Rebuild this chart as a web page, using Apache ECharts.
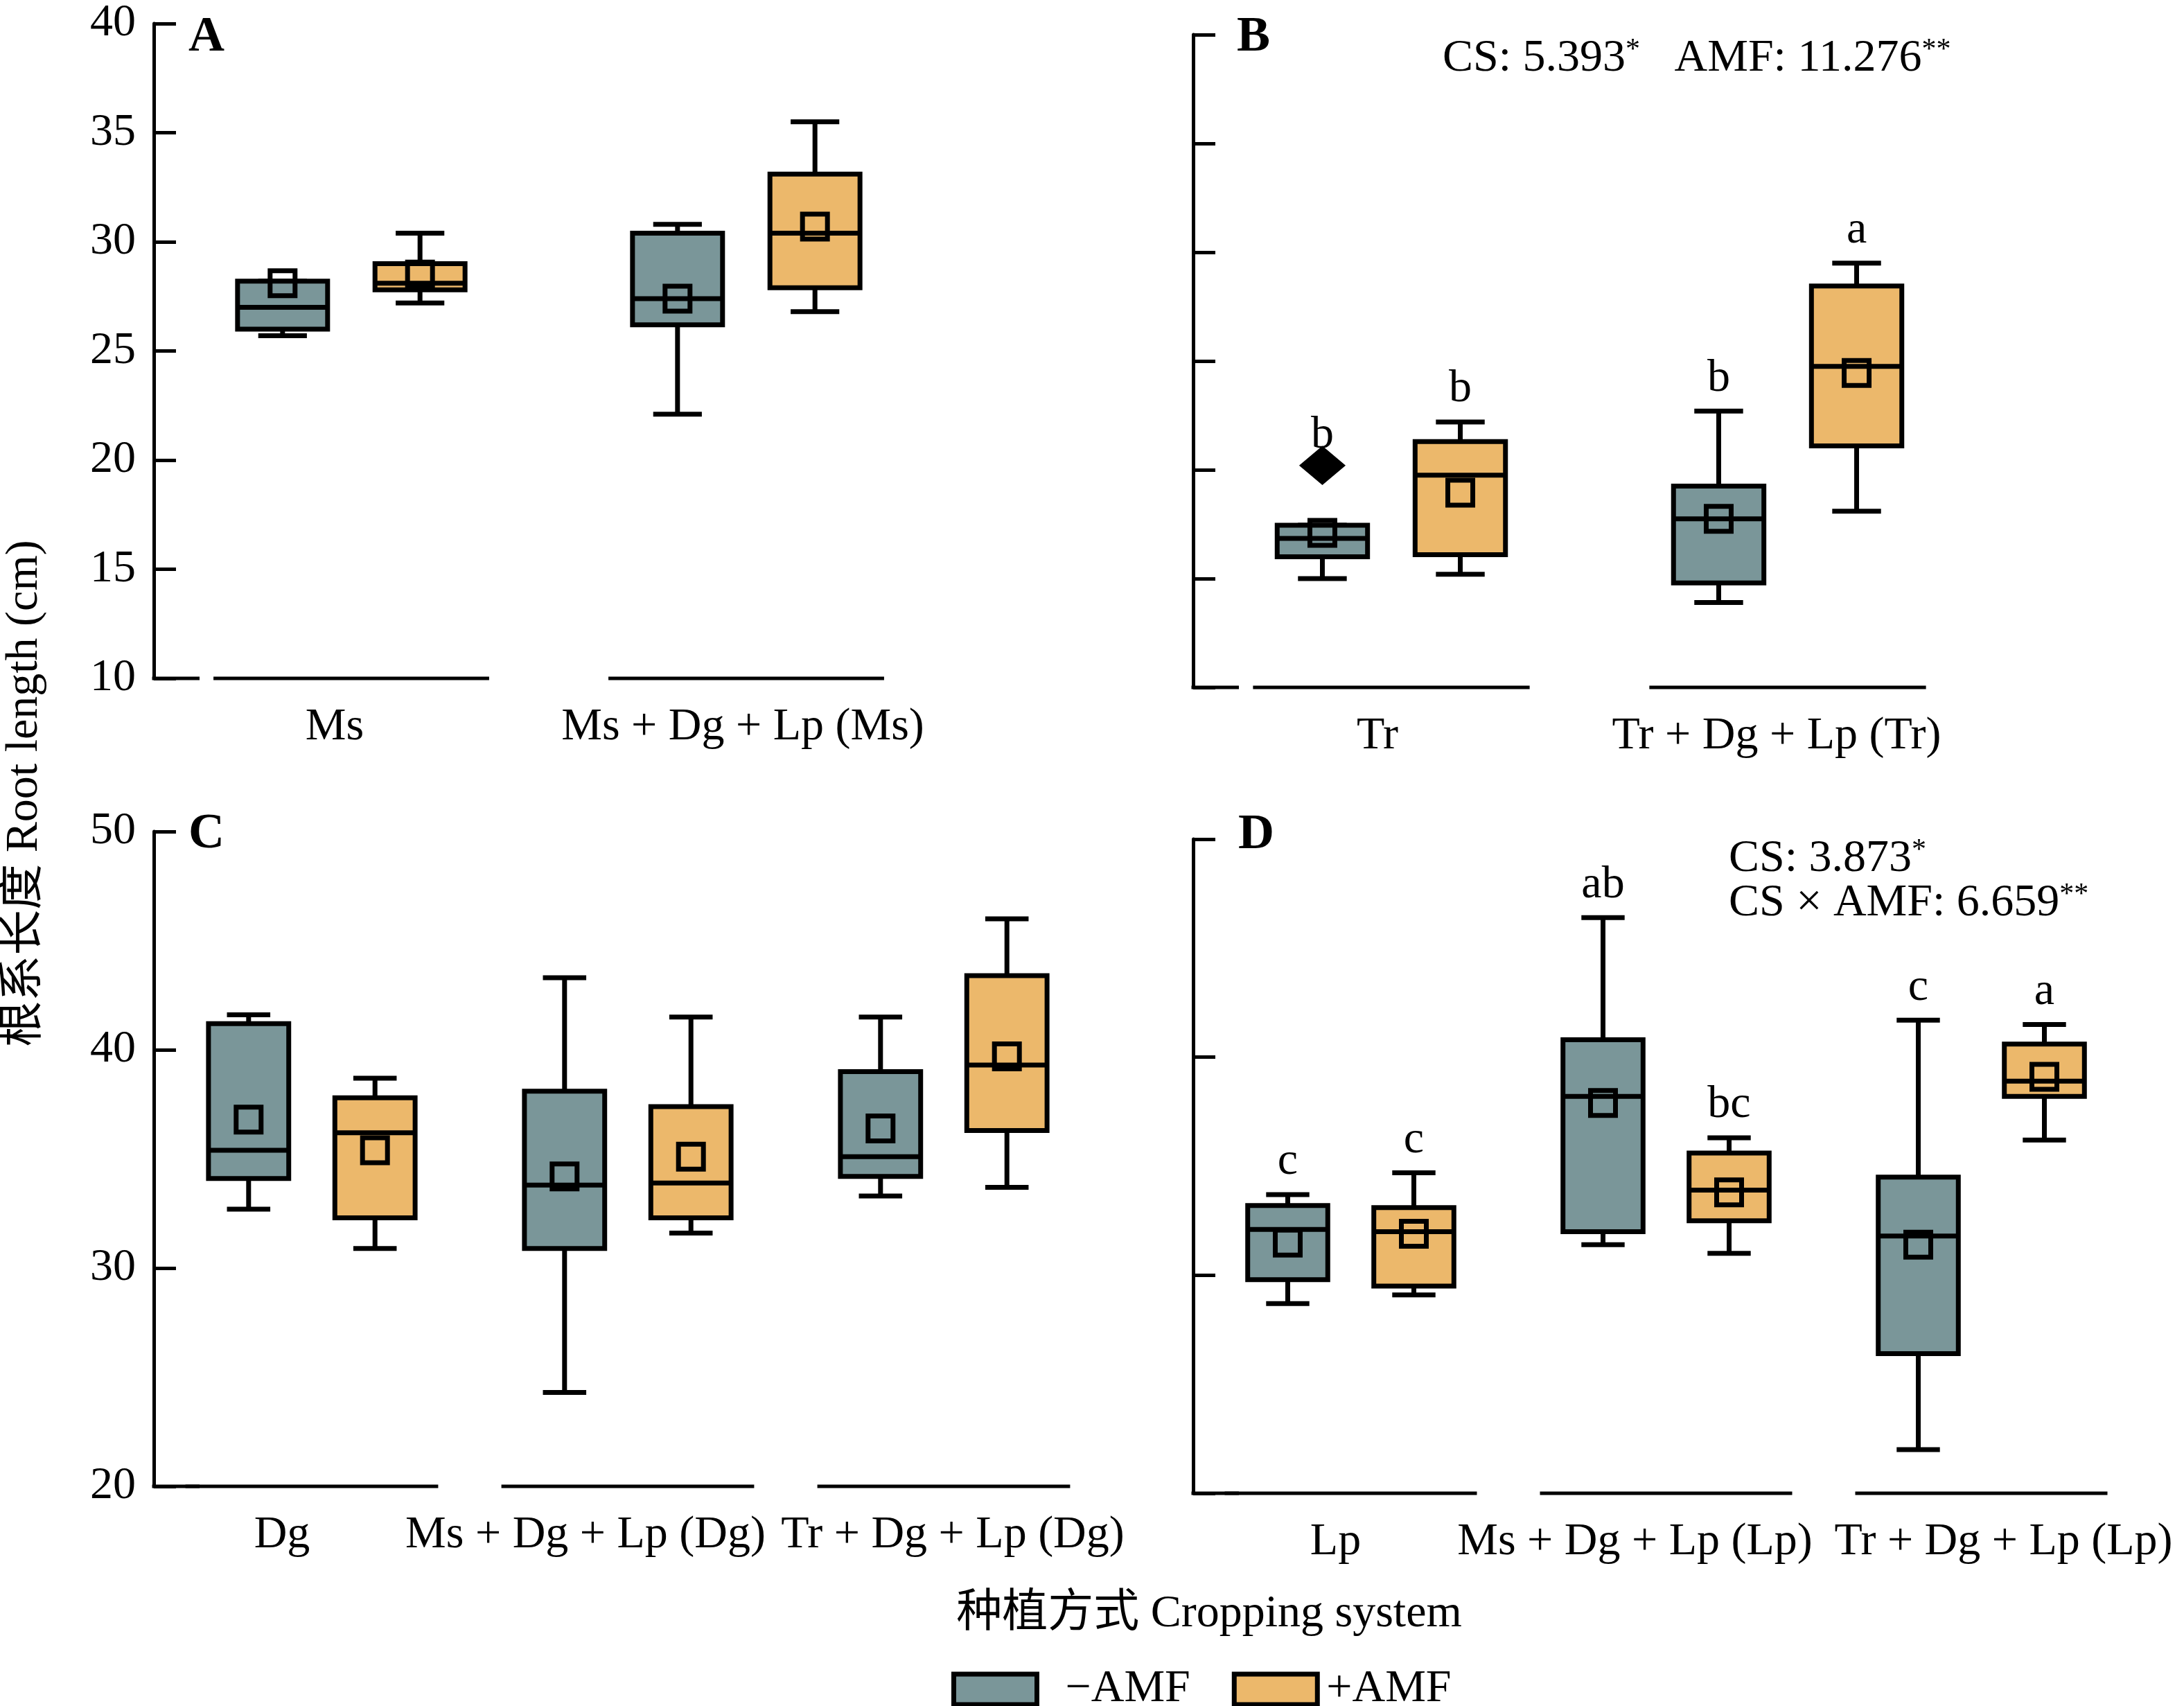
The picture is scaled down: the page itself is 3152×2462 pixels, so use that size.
<!DOCTYPE html>
<html>
<head>
<meta charset="utf-8">
<script src="https://cdn.jsdelivr.net/npm/echarts@6.0.0/dist/echarts.min.js"></script>
<style>
  html, body { margin: 0; padding: 0; background: #fff; }
  #main { width: 3152px; height: 2462px; }
</style>
</head>
<body>
<div id="main"></div>
<script>
var FONT = "'Liberation Serif', 'Times New Roman', 'Noto Sans CJK SC', serif";
var GREY = '#7a9699';
var ORANGE = '#ecb86b';

// box stats per group: [min, Q1, median, Q3, max, mean]
var catsA = ['Ms', 'Ms + Dg + Lp (Ms)'];
var minusA = [[25.7, 26.0, 27.0, 28.2, 28.2, 28.1], [22.1, 26.2, 27.4, 30.4, 30.8, 27.4]];
var plusA = [[27.2, 27.8, 28.1, 29.0, 30.4, 28.5], [26.8, 27.9, 30.4, 33.1, 35.5, 30.7]];

var catsB = ['Tr', 'Tr + Dg + Lp (Tr)'];
var minusB = [[15.0, 16.0, 16.85, 17.45, 17.45, 17.1], [13.9, 14.8, 17.75, 19.25, 22.7, 17.75]];
var plusB = [[15.2, 16.1, 19.75, 21.3, 22.2, 18.95], [18.1, 21.1, 24.75, 28.45, 29.5, 24.45]];
var outlierMinusB = [20.2, null];
var lettersMinusB = ['b', 'b'];
var lettersPlusB = ['b', 'a'];

var catsC = ['Dg', 'Ms + Dg + Lp (Dg)', 'Tr + Dg + Lp (Dg)'];
var minusC = [[32.7, 34.1, 35.4, 41.2, 41.6, 36.8], [24.3, 30.9, 33.8, 38.1, 43.3, 34.2], [33.3, 34.2, 35.1, 39.0, 41.5, 36.4]];
var plusC = [[30.9, 32.3, 36.2, 37.8, 38.7, 35.4], [31.6, 32.3, 33.9, 37.4, 41.5, 35.1], [33.7, 36.3, 39.3, 43.4, 46.0, 39.7]];

var catsD = ['Lp', 'Ms + Dg + Lp (Lp)', 'Tr + Dg + Lp (Lp)'];
var minusD = [[28.7, 29.8, 32.1, 33.2, 33.7, 31.5], [31.4, 32.0, 38.2, 40.8, 46.4, 37.9], [22.0, 26.4, 31.8, 34.5, 41.7, 31.4]];
var plusD = [[29.1, 29.5, 32.0, 33.1, 34.7, 31.9], [31.0, 32.5, 33.9, 35.6, 36.3, 33.8], [36.2, 38.2, 38.9, 40.6, 41.5, 39.1]];
var lettersMinusD = ['c', 'ab', 'c'];
var lettersPlusD = ['c', 'bc', 'a'];

// y axis ranges [min, max, interval]
var yRangeAB = [10, 40, 5];
var yRangeCD = [20, 50, 10];

// layout of the four panels
var panels = [
  { grid: { left: 222, top: 34, width: 1140, height: 945 }, y: yRangeAB, labels: true, off: 0.174, bw: 0.228, inset: 0.151, shifts: [-24, -5] },
  { grid: { left: 1722, top: 50, width: 1144, height: 942 }, y: yRangeAB, labels: false, off: 0.174, bw: 0.228, inset: 0.151, shifts: [-20, -16] },
  { grid: { left: 222, top: 1200, width: 1368, height: 945 }, y: yRangeCD, labels: true, off: 0.2, bw: 0.254, inset: 0.1, shifts: [-43, -61, 13] },
  { grid: { left: 1722, top: 1211, width: 1365, height: 944 }, y: yRangeCD, labels: false, off: 0.2, bw: 0.254, inset: 0.1, shifts: [-22, -45, 32] }
];

var LW = 7;

function richFor(shifts) {
  var r = {};
  shifts.forEach(function (s, i) {
    r['t' + i] = {
      fontSize: 66, fontFamily: FONT, color: '#000',
      padding: s < 0 ? [0, -2 * s, 0, 0] : [0, 0, 0, 2 * s]
    };
  });
  return r;
}

function boxSeries(p, k, name, stats, color, letters, outliers) {
  var off = (name === '−AMF' ? -1 : 1) * p.off;
  return {
    type: 'custom',
    name: name,
    xAxisIndex: k,
    yAxisIndex: k,
    silent: true,
    itemStyle: { color: color },
    encode: { x: 0, y: [1, 2, 3, 4, 5, 6] },
    data: stats.map(function (s, i) { return [i].concat(s); }),
    renderItem: function (params, api) {
      var i = api.value(0);
      var band = api.size([1, 0])[0];
      var cx = api.coord([i, api.value(3)])[0] + off * band;
      var w = p.bw * band;
      var cap = w * 0.27;
      var y = function (d) { return api.coord([i, api.value(d)])[1]; };
      var yMin = y(1), yQ1 = y(2), yMed = y(3), yQ3 = y(4), yMax = y(5), yMean = y(6);
      var ln = { stroke: '#000', lineWidth: LW };
      var ch = [
        { type: 'line', shape: { x1: cx, y1: yQ3, x2: cx, y2: yMax }, style: ln },
        { type: 'line', shape: { x1: cx, y1: yQ1, x2: cx, y2: yMin }, style: ln },
        { type: 'line', shape: { x1: cx - cap, y1: yMax, x2: cx + cap, y2: yMax }, style: ln },
        { type: 'line', shape: { x1: cx - cap, y1: yMin, x2: cx + cap, y2: yMin }, style: ln },
        { type: 'rect', shape: { x: cx - w / 2, y: yQ3, width: w, height: yQ1 - yQ3 }, style: { fill: color, stroke: '#000', lineWidth: LW } },
        { type: 'line', shape: { x1: cx - w / 2, y1: yMed, x2: cx + w / 2, y2: yMed }, style: ln },
        { type: 'rect', shape: { x: cx - 18, y: yMean - 18, width: 36, height: 36 }, style: { fill: 'none', stroke: '#000', lineWidth: LW } }
      ];
      var anchor = yMax;
      var o = outliers ? outliers[params.dataIndex] : null;
      if (o != null) {
        var yo = api.coord([i, o])[1];
        ch.push({ type: 'polygon', shape: { points: [[cx, yo - 27], [cx + 32, yo], [cx, yo + 27], [cx - 32, yo]] }, style: { fill: '#000', stroke: '#000', lineWidth: 2 } });
        anchor = Math.min(anchor, yo + 4);
      }
      var t = letters ? letters[params.dataIndex] : null;
      if (t) {
        ch.push({ type: 'text', x: cx, y: anchor - 14, style: { text: t, fontSize: 66, fontFamily: FONT, fill: '#000', align: 'center', verticalAlign: 'bottom' } });
      }
      return { type: 'group', children: ch };
    }
  };
}

function baseSeries(p, k, cats) {
  return {
    type: 'custom',
    xAxisIndex: k,
    yAxisIndex: k,
    silent: true,
    encode: { x: 0, y: 1 },
    data: cats.map(function (c, i) { return [i, p.y[0]]; }),
    renderItem: function (params, api) {
      var i = api.value(0);
      var band = api.size([1, 0])[0];
      var pt = api.coord([i, api.value(1)]);
      var l = pt[0] - band / 2, r = pt[0] + band / 2;
      var st = { stroke: '#000', lineWidth: 5 };
      var ch = [{ type: 'line', shape: { x1: l + p.inset * band, y1: pt[1], x2: r - p.inset * band, y2: pt[1] }, style: st }];
      if (i === 0) ch.push({ type: 'line', shape: { x1: l - 2.5, y1: pt[1], x2: l + 66, y2: pt[1] }, style: st });
      return { type: 'group', children: ch };
    }
  };
}

var allCats = [catsA, catsB, catsC, catsD];
var groups = [
  [minusA, plusA, null, null, null],
  [minusB, plusB, lettersMinusB, lettersPlusB, outlierMinusB],
  [minusC, plusC, null, null, null],
  [minusD, plusD, lettersMinusD, lettersPlusD, null]
];

var grids = [], xAxes = [], yAxes = [], series = [];
panels.forEach(function (p, k) {
  grids.push(p.grid);
  xAxes.push({
    type: 'category',
    gridIndex: k,
    data: allCats[k],
    axisLine: { show: false },
    axisTick: { show: false },
    axisLabel: {
      interval: 0, margin: 38, color: '#000', fontSize: 66, fontFamily: FONT,
      formatter: function (v, i) { return '{t' + i + '|' + v + '}'; },
      rich: richFor(p.shifts)
    }
  });
  yAxes.push({
    type: 'value',
    gridIndex: k,
    min: p.y[0], max: p.y[1], interval: p.y[2],
    axisLine: { show: true, lineStyle: { color: '#000', width: 5 } },
    axisTick: { show: true, inside: true, length: 32, lineStyle: { color: '#000', width: 5 } },
    axisLabel: { show: p.labels, margin: 26, color: '#000', fontSize: 66, fontFamily: FONT },
    splitLine: { show: false }
  });
  var g = groups[k];
  series.push(baseSeries(p, k, allCats[k]));
  series.push(boxSeries(p, k, '−AMF', g[0], GREY, g[2], g[4]));
  series.push(boxSeries(p, k, '+AMF', g[1], ORANGE, g[3], null));
});

var txt = function (x, y, text, extra) {
  var s = { text: text, fontSize: 66, fontFamily: FONT, fill: '#000', align: 'left', verticalAlign: 'middle' };
  for (var key in extra) s[key] = extra[key];
  return { type: 'text', x: x, y: y, style: s };
};
var supRich = {
  n: { fontSize: 66, fontFamily: FONT, fill: '#000', lineHeight: 66 },
  s: { fontSize: 42, fontFamily: FONT, fill: '#000', lineHeight: 42, verticalAlign: 'top' }
};

var graphics = [
  txt(272, 54, 'A', { fontWeight: 'bold', fontSize: 72 }),
  txt(1785, 54, 'B', { fontWeight: 'bold', fontSize: 72 }),
  txt(272, 1204, 'C', { fontWeight: 'bold', fontSize: 72 }),
  txt(1787, 1205, 'D', { fontWeight: 'bold', fontSize: 72 }),
  txt(2082, 85, '{n|CS: 5.393}{s|*}{n|   AMF: 11.276}{s|**}', { rich: supRich }),
  txt(2495, 1240, '{n|CS: 3.873}{s|*}', { rich: supRich }),
  txt(2495, 1304, '{n|CS × AMF: 6.659}{s|**}', { rich: supRich }),
  txt(1745, 2330, '种植方式 Cropping system', { align: 'center' }),
  {
    type: 'text', x: 36, y: 1145, rotation: Math.PI / 2,
    style: { text: '根系长度 Root length (cm)', fontSize: 66, fontFamily: FONT, fill: '#000', align: 'center', verticalAlign: 'middle' }
  }
];

var option = {
  animation: false,
  backgroundColor: '#fff',
  grid: grids,
  xAxis: xAxes,
  yAxis: yAxes,
  legend: {
    left: 1368,
    top: 2400,
    itemWidth: 120,
    itemHeight: 44,
    itemGap: 60,
    selectedMode: false,
    textStyle: { fontSize: 66, fontFamily: FONT, color: '#000' },
    data: [
      { name: '−AMF', icon: 'rect', itemStyle: { color: GREY, borderColor: '#000', borderWidth: 7 }, textStyle: { padding: [0, 0, 0, 36] } },
      { name: '+AMF', icon: 'rect', itemStyle: { color: ORANGE, borderColor: '#000', borderWidth: 7 }, textStyle: { padding: [0, 0, 0, 8] } }
    ]
  },
  graphic: graphics,
  series: series
};

var chart = echarts.init(document.getElementById('main'));
chart.setOption(option);
</script>
</body>
</html>
